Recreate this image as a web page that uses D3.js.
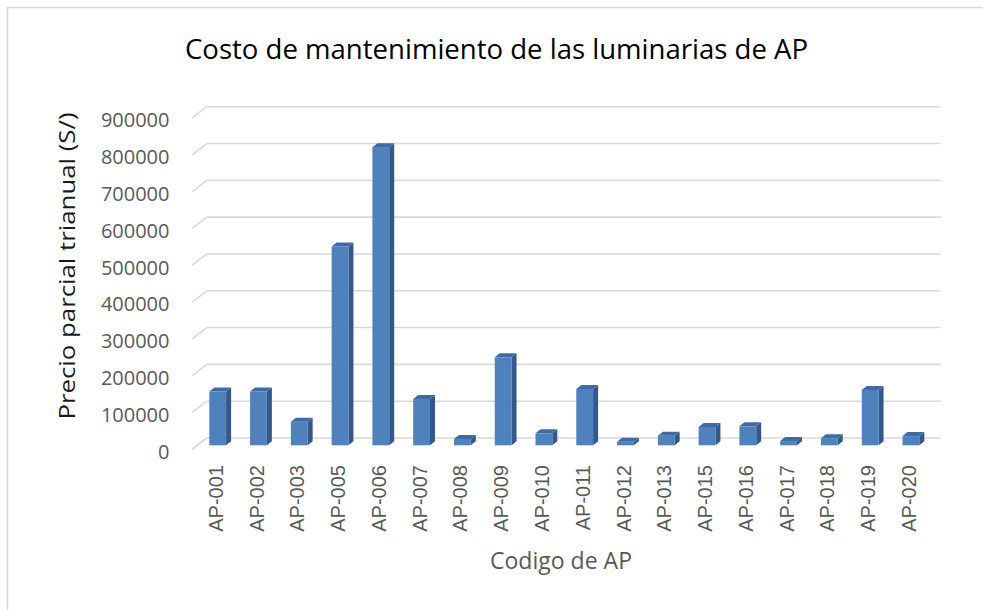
<!DOCTYPE html>
<html>
<head>
<meta charset="utf-8">
<script src="https://cdn.jsdelivr.net/npm/d3@7"></script>
<style>
  html, body { margin: 0; padding: 0; background: #fff; }
  svg { display: block; }
</style>
</head>
<body>
<svg id="chart" width="983" height="610"></svg>
<script>
// ---- Data ----
const categories = ["AP-001","AP-002","AP-003","AP-005","AP-006","AP-007","AP-008","AP-009","AP-010",
                    "AP-011","AP-012","AP-013","AP-015","AP-016","AP-017","AP-018","AP-019","AP-020"];
const values = [146000, 146000, 64000, 540000, 810000, 126000, 17000, 239000, 32500,
                153000, 9500, 26000, 50000, 51500, 11500, 19000, 150500, 25000];
const yTicks = [0, 100000, 200000, 300000, 400000, 500000, 600000, 700000, 800000, 900000];
const titleText = "Costo de mantenimiento de las luminarias de AP";
const yTitle = "Precio parcial trianual (S/)";
const xTitle = "Codigo de AP";

// ---- Layout ----
const svg = d3.select("#chart");
const wallX0 = 206.7, wallX1 = 940.7;   // back wall extent
const depthDx = 14.4, depthDy = 11.3;    // side wall depth
const barFaceDy = 7.3;                   // bar front face offset from back wall
const barW = 16.8, barDx = 5, barDy = 4;

const x = d3.scaleBand().domain(categories).range([wallX0, wallX1]).paddingInner(0).paddingOuter(0);
const y = d3.scaleLinear().domain([0, 900000]).range([438, 106.7]);

// frame
svg.append("rect").attr("x", 7.5).attr("y", 7.5).attr("width", 1000).attr("height", 700)
  .attr("fill", "#fff").attr("stroke", "#D9D9D9").attr("stroke-width", 1.5);

// title
svg.append("text").attr("x", 496.5).attr("y", 58.5).attr("text-anchor", "middle")
  .attr("font-family", "Open Sans, sans-serif").attr("font-size", 27).attr("fill", "#000")
  .attr("textLength", 623).attr("lengthAdjust", "spacingAndGlyphs")
  .text(titleText);

// gridlines
const grid = svg.append("g").attr("stroke", "#D9D9D9").attr("stroke-width", 1.6).attr("fill", "none");
yTicks.forEach(t => {
  grid.append("line").attr("x1", wallX0).attr("x2", wallX1).attr("y1", y(t)).attr("y2", y(t));
  grid.append("line").attr("x1", wallX0 - depthDx).attr("y1", y(t) + depthDy)
      .attr("x2", wallX0).attr("y2", y(t));
});

// y tick labels
svg.append("g").selectAll("text").data(yTicks).join("text")
  .attr("x", 169.5).attr("y", d => y(d) + depthDy + 9.3)
  .attr("text-anchor", "end")
  .attr("font-family", "Open Sans, sans-serif").attr("font-size", 20).attr("fill", "#595959")
  .text(d => d3.format("d")(d));

// bars
const bars = svg.append("g");
categories.forEach((c, i) => {
  const v = values[i];
  const fl = x(c) + 2.6;
  const top = y(v) + barFaceDy;
  const bot = y(0) + barFaceDy;
  // side
  bars.append("polygon")
    .attr("points", [[fl + barW, top], [fl + barW + barDx, top - barDy], [fl + barW + barDx, bot - barDy], [fl + barW, bot]].map(p => p.join(",")).join(" "))
    .attr("fill", "#34588A");
  // front
  bars.append("rect").attr("x", fl).attr("y", top).attr("width", barW).attr("height", bot - top)
    .attr("fill", "#4F81BD");
  // top
  bars.append("polygon")
    .attr("points", [[fl, top], [fl + barDx, top - barDy], [fl + barW + barDx, top - barDy], [fl + barW, top]].map(p => p.join(",")).join(" "))
    .attr("fill", "#3E6BA6");
});

// x tick labels
svg.append("g").selectAll("text").data(categories).join("text")
  .attr("transform", d => `translate(${x(d) + 2.6 + 6.5},465) rotate(-90)`)
  .attr("text-anchor", "end").attr("dominant-baseline", "central")
  .attr("font-family", "Liberation Sans, Arial, sans-serif").attr("font-size", 20).attr("fill", "#595959")
  .text(d => d);

// axis titles
svg.append("text").attr("transform", "translate(75,266) rotate(-90)").attr("text-anchor", "middle")
  .attr("font-family", "Open Sans, sans-serif").attr("font-size", 22).attr("fill", "#1a1a1a")
  .attr("textLength", 307).attr("lengthAdjust", "spacingAndGlyphs")
  .text(yTitle);

svg.append("text").attr("x", 561).attr("y", 569).attr("text-anchor", "middle")
  .attr("font-family", "Open Sans, sans-serif").attr("font-size", 23).attr("fill", "#595959")
  .attr("textLength", 142).attr("lengthAdjust", "spacingAndGlyphs")
  .text(xTitle);
</script>
</body>
</html>
